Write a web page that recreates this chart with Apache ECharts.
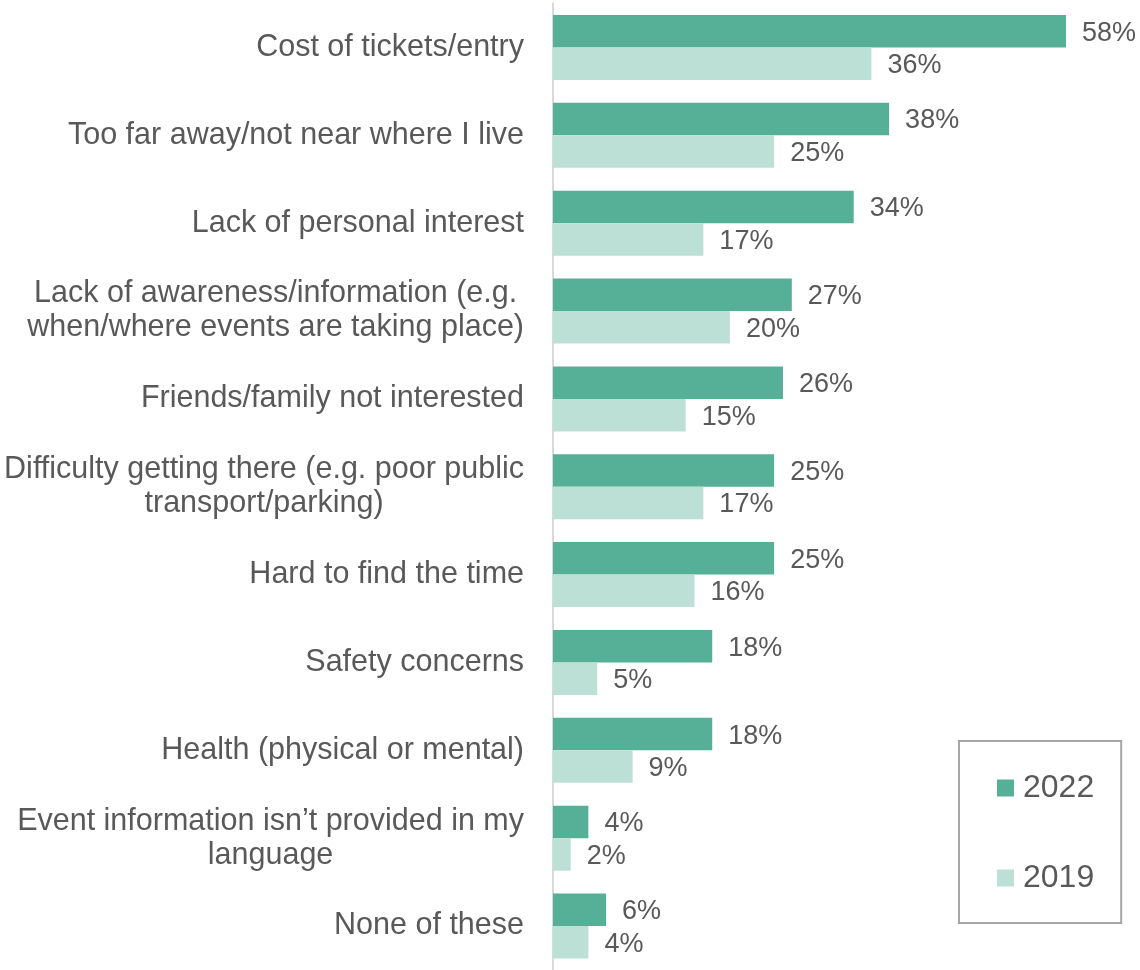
<!DOCTYPE html>
<html>
<head>
<meta charset="utf-8">
<script src="https://cdn.jsdelivr.net/npm/echarts@6/dist/echarts.min.js"></script>
<style>
  html, body { margin: 0; padding: 0; background: #ffffff; }
  #chart { width: 1140px; height: 970px; }
</style>
</head>
<body>
<div id="chart"></div>
<script>
// Barriers to attending events, share of respondents (%)
const categories = [
  'Cost of tickets/entry',
  'Too far away/not near where I live',
  'Lack of personal interest',
  'Lack of awareness/information (e.g.\nwhen/where events are taking place)',
  'Friends/family not interested',
  'Difficulty getting there (e.g. poor public\ntransport/parking)',
  'Hard to find the time',
  'Safety concerns',
  'Health (physical or mental)',
  'Event information isn\u2019t provided in my\nlanguage',
  'None of these'
];
const values2022 = [58, 38, 34, 27, 26, 25, 25, 18, 18, 4, 6];
const values2019 = [36, 25, 17, 20, 15, 17, 16, 5, 9, 2, 4];
const seriesNames = ['2022', '2019'];

const FONT = '"Liberation Sans", Arial, sans-serif';
const TEXT = '#595959';
const DARK = '#56AF97';
const LIGHT = '#BCE0D6';

const chart = echarts.init(document.getElementById('chart'), null, { renderer: 'canvas' });

const valueLabel = {
  show: true,
  position: 'right',
  distance: 16,
  offset: [0, 2],
  color: TEXT,
  fontFamily: FONT,
  fontSize: 27,
  formatter: p => p.value + '%'
};

chart.setOption({
  animation: false,
  backgroundColor: '#ffffff',
  grid: { left: 553, top: 3.5, height: 967, width: 530.7, containLabel: false },
  xAxis: {
    type: 'value', min: 0, max: 60,
    show: false
  },
  yAxis: {
    type: 'category',
    data: categories,
    inverse: true,
    axisLine: { show: true, lineStyle: { color: '#D9D9D9', width: 2 } },
    axisTick: { show: false },
    splitLine: { show: false },
    axisLabel: {
      margin: 29,
      color: TEXT,
      fontFamily: FONT,
      fontSize: 30.5,
      lineHeight: 34,
      // each line centred within the right-aligned label block
      formatter: v => v.split('\n').map(s => '{c|' + s + '}').join('\n'),
      rich: { c: { align: 'center', color: TEXT, fontFamily: FONT, fontSize: 30.5, lineHeight: 34 } }
    }
  },
  legend: {
    orient: 'vertical',
    left: 959,
    top: 741,
    data: seriesNames,
    itemWidth: 17,
    itemHeight: 17,
    itemGap: 58,
    icon: 'rect',
    borderColor: '#A6A6A6',
    borderWidth: 2,
    padding: [31, 27, 29, 38],
    textStyle: { color: TEXT, fontFamily: FONT, fontSize: 32, lineHeight: 32, padding: [0, 0, 0, 4] },
    selectedMode: false
  },
  series: [
    {
      name: seriesNames[0], type: 'bar', data: values2022,
      barWidth: 32.5, barGap: '0%',
      itemStyle: { color: DARK },
      label: valueLabel
    },
    {
      name: seriesNames[1], type: 'bar', data: values2019,
      barWidth: 32.5, barGap: '0%',
      itemStyle: { color: LIGHT },
      label: valueLabel
    }
  ]
});
</script>
</body>
</html>
